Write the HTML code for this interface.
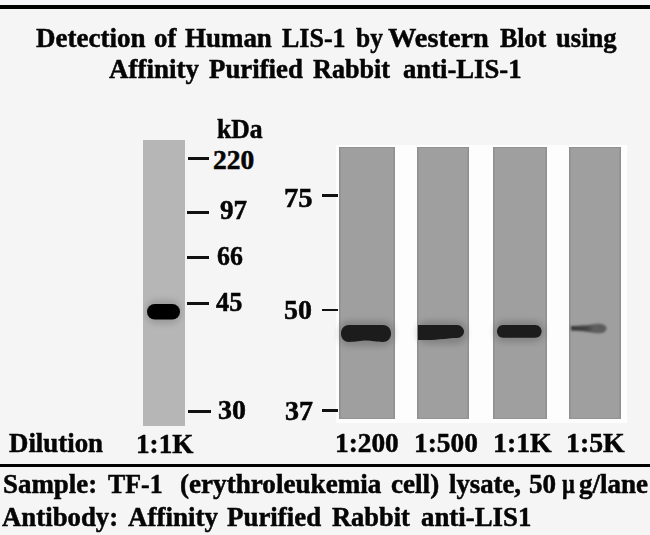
<!DOCTYPE html>
<html><head><meta charset="utf-8"><style>
html,body{margin:0;padding:0;}
body{width:650px;height:535px;position:relative;overflow:hidden;background:#f5f5f5;}
.t{position:absolute;font-family:"Liberation Serif",serif;font-weight:bold;line-height:1;white-space:pre;color:#050505;-webkit-text-stroke:0.5px #050505;transform-origin:0 0;}
.r{position:absolute;}
.wrap{position:absolute;left:0;top:0;width:650px;height:535px;}
.lane{position:absolute;background:#9f9f9f;box-shadow:inset 1.5px 0 0 #8f8f8f, inset -1.5px 0 0 #8f8f8f, inset 0 1px 0 #929292, inset 0 -1px 0 #939393;}
.band{position:absolute;background:#1a1a1a;filter:blur(0.6px);}
</style></head><body><div class="wrap">
<div class="r" style="left:0;top:0;width:650px;height:5px;background:#f6f6f8"></div>
<div class="r" style="left:0;top:5px;width:650px;height:4px;background:#000"></div>
<div class="r" style="left:0;top:467px;width:650px;height:68px;background:#f5f5f5"></div>
<div class="r" style="left:0;top:464px;width:650px;height:3px;background:#000"></div>
<!-- left lane -->
<div class="r" style="left:143px;top:140px;width:42px;height:286px;background:#b6b6b6"></div>
<!-- left ticks -->
<div class="r" style="left:188px;top:157px;width:21px;height:3px;background:#111"></div>
<div class="r" style="left:187px;top:211px;width:22px;height:3px;background:#111"></div>
<div class="r" style="left:187px;top:256px;width:22px;height:3px;background:#111"></div>
<div class="r" style="left:187px;top:302px;width:22px;height:3px;background:#111"></div>
<div class="r" style="left:188px;top:410px;width:23px;height:3px;background:#111"></div>
<!-- right panel -->
<div class="r" style="left:336px;top:144.5px;width:291px;height:278.5px;background:#fdfdfd;filter:blur(0.6px)"></div>
<div class="lane" style="left:338.5px;top:147px;width:56.5px;height:272px"></div>
<div class="lane" style="left:417px;top:147px;width:51.8px;height:271.5px"></div>
<div class="lane" style="left:492.6px;top:147px;width:54.7px;height:271.5px"></div>
<div class="lane" style="left:569.4px;top:147px;width:52.1px;height:271.5px"></div>
<svg class="r" style="left:0;top:0" width="650" height="535" viewBox="0 0 650 535">
<defs>
<filter id="b1" x="-20%" y="-50%" width="140%" height="200%"><feGaussianBlur stdDeviation="0.55"/></filter>
<filter id="b2" x="-20%" y="-80%" width="140%" height="260%"><feGaussianBlur stdDeviation="1.3"/></filter>
<filter id="b3" x="-30%" y="-100%" width="160%" height="300%"><feGaussianBlur stdDeviation="3"/></filter>
<clipPath id="cl"><rect x="143" y="140" width="42" height="286"/></clipPath>
</defs>
<g clip-path="url(#cl)"><g filter="url(#b3)" opacity="0.14"><rect x="146" y="300" width="35" height="24" rx="10" fill="#000"/></g></g>
<g filter="url(#b3)" opacity="0.18">
<rect x="339" y="321" width="55" height="25" rx="10" fill="#000"/>
<rect x="417" y="321" width="50" height="23" rx="10" fill="#000"/>
<rect x="494" y="321" width="50" height="21" rx="10" fill="#000"/>
</g>
<g filter="url(#b1)">
<rect x="147" y="304" width="33" height="15.5" rx="7.75" fill="#040404"/>
<path d="M349,325 L383,325 C388,325 391,329 391,333.5 C391,338 388,342 383,342 C376,342 372,340.6 366,340.6 C360,340.6 356,342 349,342 C344,342 341,338 341,333.5 C341,329 344,325 349,325 Z" fill="#1b1b1b"/>
<path d="M418,325 L457,325 C461,325 464,328.5 464,331.5 C464,335 461,338 457,338 C448,338 440,340 426,340 L418,340 Z" fill="#1b1b1b"/>
<path d="M503,325 L535,325 C539,325 541.5,328 541.5,331.3 C541.5,335 539,337.8 535,337.8 L503,337.8 C499.5,337.8 497,335 497,331.3 C497,328 499.5,325 503,325 Z" fill="#1b1b1b"/>
</g>
<linearGradient id="g4" x1="0" x2="1" y1="0" y2="0"><stop offset="0" stop-color="#363636"/><stop offset="0.45" stop-color="#444"/><stop offset="0.65" stop-color="#5e5e5e"/><stop offset="1" stop-color="#5a5a5a"/></linearGradient>
<g filter="url(#b2)">
<path d="M571,326 C578,325.8 586,325.4 592,324.4 C597,323 606.5,323.5 606.5,328.3 C606.5,333 600,334 594,333 C588,331.8 580,330.6 571,330.5 Z" fill="url(#g4)"/>
</g>
</svg>
<!-- right ticks -->
<div class="r" style="left:322px;top:194px;width:16px;height:2.5px;background:#111"></div>
<div class="r" style="left:322px;top:308.5px;width:16px;height:2.5px;background:#111"></div>
<div class="r" style="left:322px;top:409px;width:16px;height:2.5px;background:#111"></div>
<div class="t" style="left:35.80px;top:24.18px;font-size:27.6px;transform:scaleX(0.9786);">Detection</div>
<div class="t" style="left:154.43px;top:24.18px;font-size:27.6px;transform:scaleX(0.9696);">of</div>
<div class="t" style="left:184.60px;top:24.18px;font-size:27.6px;transform:scaleX(0.9764);">Human</div>
<div class="t" style="left:282.30px;top:24.18px;font-size:27.6px;transform:scaleX(0.9418);">LIS-1</div>
<div class="t" style="left:356.20px;top:24.18px;font-size:27.6px;transform:scaleX(0.9241);">by</div>
<div class="t" style="left:387.70px;top:24.18px;font-size:27.6px;transform:scaleX(1.0286);">Western</div>
<div class="t" style="left:500.00px;top:24.18px;font-size:27.6px;transform:scaleX(0.9429);">Blot</div>
<div class="t" style="left:556.20px;top:24.18px;font-size:27.6px;transform:scaleX(0.9635);">using</div>
<div class="t" style="left:108.50px;top:55.29px;font-size:27.6px;transform:scaleX(0.9783);">Affinity</div>
<div class="t" style="left:208.80px;top:55.29px;font-size:27.6px;transform:scaleX(0.9722);">Purified</div>
<div class="t" style="left:313.10px;top:55.29px;font-size:27.6px;transform:scaleX(0.9476);">Rabbit</div>
<div class="t" style="left:403.10px;top:55.29px;font-size:27.6px;transform:scaleX(0.9664);">anti-LIS-1</div>
<div class="t" style="left:216.70px;top:115.81px;font-size:26.5px;transform:scaleX(0.9681);">kDa</div>
<div class="t" style="left:213.00px;top:146.17px;font-size:27.5px;">220</div>
<div class="t" style="left:219.70px;top:195.97px;font-size:27.5px;transform:scaleX(0.9852);">97</div>
<div class="t" style="left:217.10px;top:241.97px;font-size:27.5px;transform:scaleX(0.9407);">66</div>
<div class="t" style="left:216.40px;top:288.47px;font-size:27.5px;transform:scaleX(0.9556);">45</div>
<div class="t" style="left:218.48px;top:396.17px;font-size:27.5px;transform:scaleX(1.0154);">30</div>
<div class="t" style="left:283.76px;top:183.67px;font-size:27.5px;transform:scaleX(1.0423);">75</div>
<div class="t" style="left:284.48px;top:295.57px;font-size:27.5px;transform:scaleX(1.0154);">50</div>
<div class="t" style="left:284.98px;top:397.17px;font-size:27.5px;transform:scaleX(1.0192);">37</div>
<div class="t" style="left:8.60px;top:429.82px;font-size:27.2px;transform:scaleX(0.9874);">Dilution</div>
<div class="t" style="left:135.96px;top:429.95px;font-size:28px;transform:scaleX(0.9719);">1:1K</div>
<div class="t" style="left:335.35px;top:428.65px;font-size:28px;transform:scaleX(0.9762);">1:200</div>
<div class="t" style="left:414.04px;top:428.85px;font-size:28px;transform:scaleX(0.9778);">1:500</div>
<div class="t" style="left:492.81px;top:428.85px;font-size:28px;transform:scaleX(0.9930);">1:1K</div>
<div class="t" style="left:566.01px;top:428.85px;font-size:28px;transform:scaleX(0.9930);">1:5K</div>
<div class="t" style="left:2.71px;top:470.74px;font-size:27.3px;transform:scaleX(0.9860);">Sample:</div>
<div class="t" style="left:107.70px;top:470.74px;font-size:27.3px;transform:scaleX(0.9474);">TF-1</div>
<div class="t" style="left:179.81px;top:470.74px;font-size:27.3px;transform:scaleX(0.9936);">(erythroleukemia</div>
<div class="t" style="left:390.80px;top:470.74px;font-size:27.3px;transform:scaleX(0.9937);">cell)</div>
<div class="t" style="left:448.50px;top:470.74px;font-size:27.3px;transform:scaleX(0.9795);">lysate,</div>
<div class="t" style="left:529.01px;top:470.74px;font-size:27.3px;transform:scaleX(0.9923);">50</div>
<div class="t" style="left:562.30px;top:470.74px;font-size:27.3px;transform:scaleX(0.8188);">µ</div>
<div class="t" style="left:578.70px;top:470.74px;font-size:27.3px;transform:scaleX(0.9900);">g/lane</div>
<div class="t" style="left:1.50px;top:503.74px;font-size:27.3px;transform:scaleX(0.9819);">Antibody:</div>
<div class="t" style="left:127.70px;top:503.74px;font-size:27.3px;transform:scaleX(0.9890);">Affinity</div>
<div class="t" style="left:226.90px;top:503.74px;font-size:27.3px;transform:scaleX(0.9854);">Purified</div>
<div class="t" style="left:331.50px;top:503.74px;font-size:27.3px;transform:scaleX(0.9691);">Rabbit</div>
<div class="t" style="left:420.80px;top:503.74px;font-size:27.3px;transform:scaleX(0.9838);">anti-LIS1</div>
</div></body></html>
